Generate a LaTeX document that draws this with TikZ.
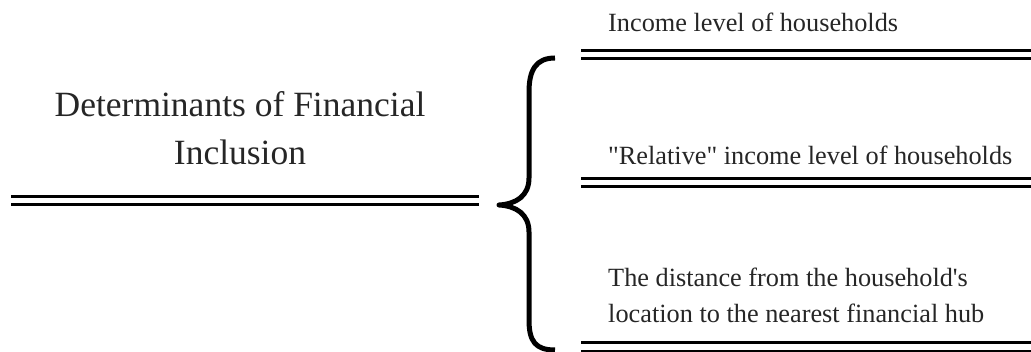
\documentclass[tikz,border=0pt]{standalone}
\usepackage{fontspec}
\setmainfont{Liberation Serif}[Ligatures=TeXOff]
\begin{document}
\begin{tikzpicture}[x=1pt,y=-1pt,
  dline/.style={double, double distance=5.5pt, line width=2.8pt, black},
  bracestyle/.style={line width=5pt, line cap=butt, line join=round},
  title/.style={font=\fontsize{35.5}{48}\selectfont, align=center, inner sep=0pt, text=black!85},
  item/.style={font=\fontsize{26.3}{36}\selectfont, align=left, anchor=base west, inner sep=0pt, text=black!85}]
\useasboundingbox (0,0) rectangle (1031,352);
% title
\node[title, anchor=base] (title) at (240,165) {Determinants of Financial\\Inclusion};
% left double line
\coordinate (l1) at (11,200.75);
\coordinate (l2) at (479,200.75);
\draw[dline] (l1) -- (l2);
% brace
\draw[bracestyle] (555,58) .. controls (536,58) and (529,70) .. (529,92) -- (529,178)
  .. controls (529,196) and (516,204) .. (499,205)
  .. controls (516,206) and (529,214) .. (529,232) -- (529,320)
  .. controls (529,342) and (536,350) .. (555,350);
% right items
\node[item] (i1) at (608,32) {Income level of households};
\node[item] (i2) at (608,165) {"Relative" income level of households};
\node[item] (i3) at (608,323) {The distance from the household's\\location to the nearest financial hub};
\coordinate (r1a) at (581,54.5);  \coordinate (r1b) at (1031,54.5);
\coordinate (r2a) at (581,182.75); \coordinate (r2b) at (1031,182.75);
\coordinate (r3a) at (581,347);   \coordinate (r3b) at (1031,347);
\draw[dline] (r1a) -- (r1b);
\draw[dline] (r2a) -- (r2b);
\draw[dline] (r3a) -- (r3b);
\end{tikzpicture}
\end{document}
